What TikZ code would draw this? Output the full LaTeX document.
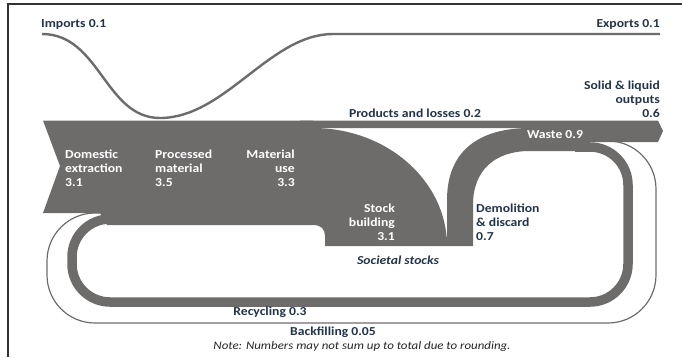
\documentclass[tikz,border=0pt]{standalone}
\usepackage{fontspec}
\setmainfont[FakeStretch=1.12]{Carlito}
\usepackage{tikz}
\definecolor{flowgrey}{HTML}{6E6B6B}
\definecolor{labelblue}{HTML}{22344A}

\begin{document}
\begin{tikzpicture}[x=1pt,y=-1pt,
    lbl/.style={inner sep=0pt, font=\fontsize{12.2}{14}\selectfont\bfseries, labelblue},
    inlbl/.style={lbl, white},
    flow/.style={fill=flowgrey}]
    \useasboundingbox (0,0) rectangle (682,357);
    % frame
    \draw[line width=1.4pt, black!80] (8,357) -- (8,4) -- (682,4);
    % imports and exports
    \draw[flowgrey, line width=2.4pt] (42,34) .. controls (100,34) and (105,118) .. (160,118)
        .. controls (225,118) and (270,34) .. (333,34) -- (660,34);
    % main flow
    \fill[flow] (43,120.5) -- (313,120.5) -- (313,128) .. controls (387,128) and (447,181) .. (447,246)
        -- (325,246) -- (325,236) .. controls (325,229) and (321,225) .. (313,225)
        -- (107,225) -- (100,213) -- (43,213) -- (60,166) -- cycle;
    % products and losses, solid and liquid outputs
    \fill[flow] (300,120.5) -- (658,120.5) -- (663,131) -- (658,142) -- (560,142) -- (560,128) -- (300,128) -- cycle;
    % demolition and waste
    \fill[flow] (447,246) -- (447,200) .. controls (447,150) and (480,128) .. (530,128) -- (590,128)
        -- (590,151) -- (530,151) .. controls (495,151) and (473,170) .. (473,205) -- (473,246) -- cycle;
    \fill[flow] (325,237) rectangle (473,246);
    % recycling
    \draw[flowgrey, line width=9.5pt, rounded corners=38pt] (575,147) -- (628,147) -- (628,302) -- (72,302) -- (72,219) -- (112,219);
    % backfilling
    \draw[flowgrey, line width=1.2pt, rounded corners=48pt] (588,141) -- (656,141) -- (656,323) -- (47,323) -- (47,213) -- (104,213);
    % labels
    \node[lbl, anchor=west] (imports) at (41,24) {Imports 0.1};
    \node[lbl, anchor=east] (exports) at (660,24) {Exports 0.1};
    \node[lbl, anchor=east, align=right] (solid) at (660,99) {Solid \& liquid\\outputs\\0.6};
    \node[lbl] (products) at (415,113) {Products and losses 0.2};
    \node[inlbl] (waste) at (555,135) {Waste 0.9};
    \node[inlbl, anchor=west, align=left] (domestic) at (65,168) {Domestic\\extraction\\3.1};
    \node[inlbl, anchor=west, align=left] (processed) at (155,168) {Processed\\material\\3.5};
    \node[inlbl, anchor=east, align=right] (matuse) at (295,168) {Material\\use\\3.3};
    \node[inlbl, anchor=east, align=right] (stock) at (395,222) {Stock\\building\\3.1};
    \node[lbl, anchor=west, align=left] (demolition) at (476,222) {Demolition\\\& discard\\0.7};
    \node[lbl, font=\fontsize{12.2}{14}\selectfont\bfseries\itshape] (societal) at (398,260) {Societal stocks};
    \node[lbl] (recycling) at (270,312) {Recycling 0.3};
    \node[lbl] (backfilling) at (333,332) {Backfilling 0.05};
    \node[lbl, font=\fontsize{11.5}{14}\selectfont\itshape, black!85] (note) at (362,346) {Note: Numbers may not sum up to total due to rounding.};
\end{tikzpicture}
\end{document}
